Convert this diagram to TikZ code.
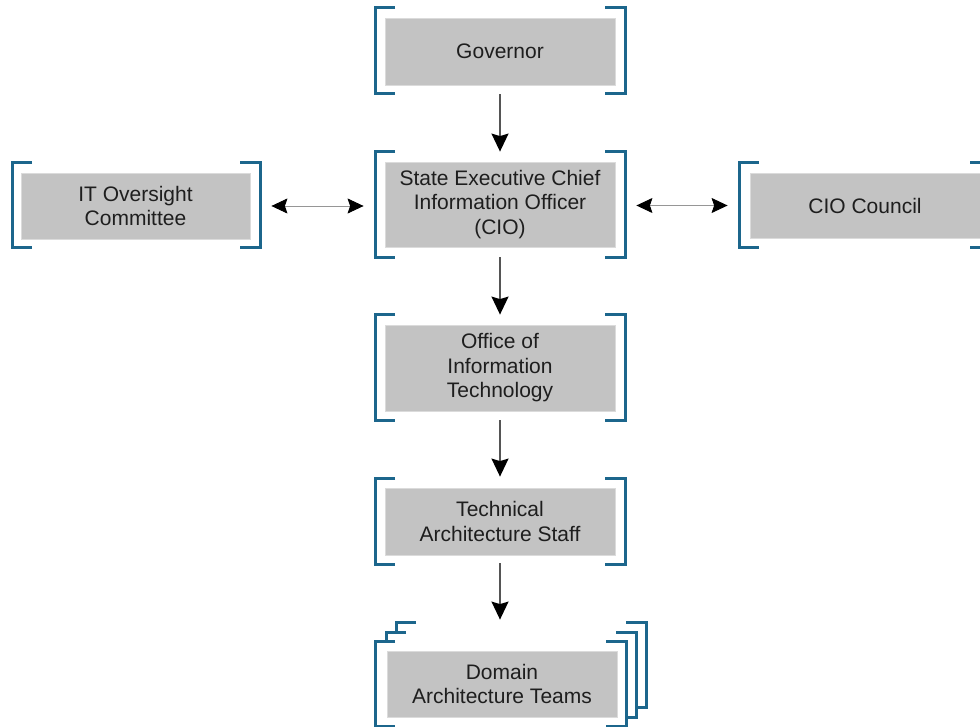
\documentclass[tikz,border=0pt]{standalone}
\usepackage{fontspec}
\setmainfont{Liberation Sans}
\usetikzlibrary{arrows.meta}
\definecolor{bktblue}{RGB}{28,102,140}
\definecolor{boxgray}{RGB}{195,195,195}
\definecolor{txtgray}{RGB}{30,30,30}
\definecolor{shaftgray}{RGB}{85,85,85}
\definecolor{thingray}{RGB}{150,150,150}
% pair of square brackets framing a box: x1,y1,x2,y2
\newcommand\bracketpair[4]{%
  \draw[bkt] ({#1+20},#2) -- (#1,#2) -- (#1,#4) -- ({#1+20},#4);
  \draw[bkt] ({#3-20},#2) -- (#3,#2) -- (#3,#4) -- ({#3-20},#4);}
% same, with the area behind it blanked out (for stacked frames)
\newcommand\stackedpair[4]{%
  \fill[white] (#1,#2) rectangle (#3,#4);
  \bracketpair{#1}{#2}{#3}{#4}}
\tikzset{
  bkt/.style={draw=bktblue, line width=3pt, line join=miter, line cap=butt},
  box/.style={fill=boxgray, draw=boxgray!60!white, line width=0.8pt,
    inner sep=0pt, minimum width=230pt, align=center, text=txtgray,
    font=\fontsize{21}{24.5}\selectfont},
  vtip/.style={Stealth[length=18pt,width=17pt,inset=2.5pt,black]},
  htip/.style={Stealth[length=16pt,width=15pt,inset=2.5pt,black]},
  varrow/.style={draw=shaftgray, line width=1.6pt, -{Stealth[length=18pt,width=17pt,inset=2.5pt,black]}},
  harrow/.style={draw=thingray, line width=0.9pt,
    {Stealth[length=16pt,width=15pt,inset=2.5pt,black]}-{Stealth[length=16pt,width=15pt,inset=2.5pt,black]}},
}
\begin{document}
\begin{tikzpicture}[x=1pt, y=-1pt]
\useasboundingbox (0,0) rectangle (980,727);
\clip (0,0) rectangle (980,727);

% frames
\bracketpair{375}{8}{625}{94}
\bracketpair{375}{152}{625}{258}
\bracketpair{12}{163}{260}{248}
\bracketpair{739}{163}{990}{248}
\bracketpair{375}{315}{625}{420}
\bracketpair{375}{478}{625}{564}
\stackedpair{396}{622}{646}{707}
\stackedpair{386}{632}{636}{717}
\stackedpair{375}{641}{626}{726}

% boxes
\node[box, minimum height=67pt] (gov) at (500,51.5) {Governor};
\node[box, minimum height=85pt] (cio) at (500,204.5)
  {State Executive Chief\\Information Officer\\(CIO)};
\node[box, minimum width=229pt, minimum height=66pt] (itc) at (135.5,206)
  {IT Oversight\\Committee};
\node[box, minimum height=65pt] (council) at (865,205.5) {CIO Council};
\node[box, minimum height=86pt] (oit) at (500,368)
  {Office of\\Information\\Technology};
\node[box, minimum height=67pt] (tas) at (500,521.5)
  {Technical\\Architecture Staff};
\node[box, minimum height=66pt] (dat) at (502,684)
  {Domain\\Architecture Teams};

% reporting line
\draw[varrow, shorten <=9pt, shorten >=10pt] (gov) -- (cio);
\draw[varrow, shorten <=10pt, shorten >=10pt] (cio) -- (oit);
\draw[varrow, shorten <=9pt, shorten >=11pt] (oit) -- (tas);
\draw[varrow, shorten <=8pt, shorten >=31pt] (tas) -- (dat.north -| tas.south);

% two-way links
\draw[harrow, shorten <=21pt, shorten >=21pt] (itc.east) -- (itc.east -| cio.west);
\draw[harrow, shorten <=21pt, shorten >=22pt] (council.west -| cio.east) -- (council.west);
\end{tikzpicture}
\end{document}
